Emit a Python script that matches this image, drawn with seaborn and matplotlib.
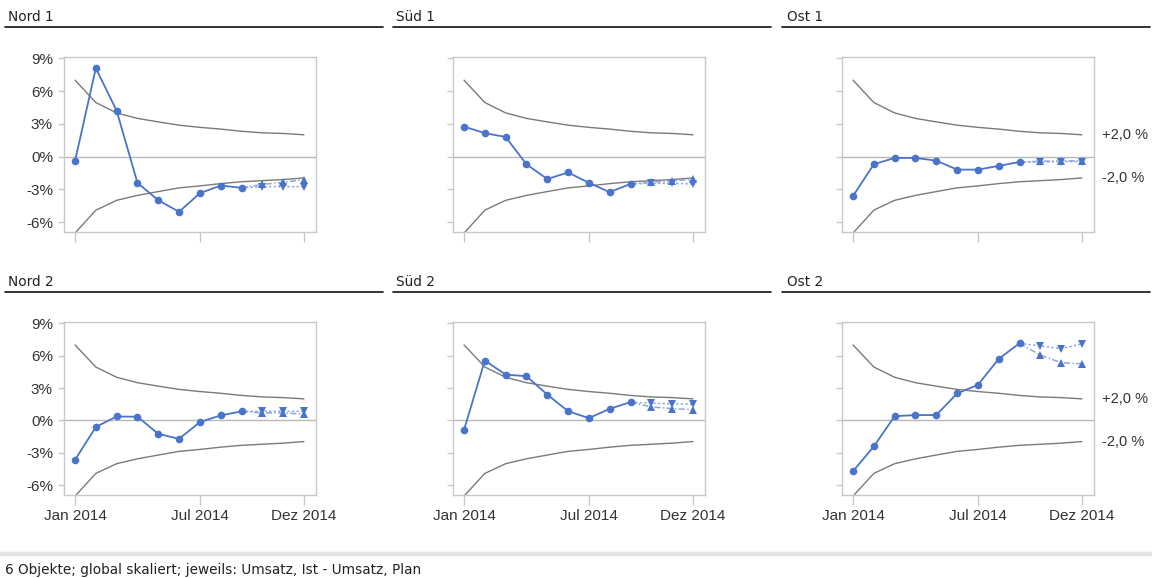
import numpy as np
import pandas as pd
import matplotlib
matplotlib.use("Agg")
import matplotlib.pyplot as plt
from matplotlib.lines import Line2D
import seaborn as sns

# ---------------- data ----------------
months = list(range(12))
month_ticks = [0, 6, 11]
month_tick_labels = ["Jan 2014", "Jul 2014", "Dez 2014"]
y_ticks = [-6, -3, 0, 3, 6, 9]
y_tick_labels = ["-6%", "-3%", "0%", "3%", "6%", "9%"]

band_upper = [7.0, 4.95, 4.0, 3.5, 3.18, 2.88, 2.68, 2.52, 2.32, 2.18, 2.12, 2.0]
band_lower = [-7.0, -4.9, -4.0, -3.55, -3.2, -2.86, -2.68, -2.47, -2.3, -2.2, -2.1, -1.95]

panel_titles = ["Nord 1", "Süd 1", "Ost 1", "Nord 2", "Süd 2", "Ost 2"]

ist_months = list(range(9))        # Jan .. Sep
fc_months = [8, 9, 10, 11]         # Sep .. Dez

nord1_ist = [-0.4, 8.1, 4.2, -2.4, -4.0, -5.05, -3.35, -2.65, -2.85]
nord1_fc_down = [-2.85, -2.75, -2.75, -2.75]
nord1_fc_up = [-2.85, -2.55, -2.35, -2.1]

sued1_ist = [2.75, 2.15, 1.8, -0.7, -2.05, -1.45, -2.4, -3.25, -2.5]
sued1_fc_down = [-2.5, -2.45, -2.45, -2.5]
sued1_fc_up = [-2.5, -2.35, -2.25, -2.05]

ost1_ist = [-3.6, -0.7, -0.12, -0.12, -0.37, -1.19, -1.19, -0.85, -0.49]
ost1_fc_down = [-0.49, -0.5, -0.45, -0.45]
ost1_fc_up = [-0.49, -0.42, -0.4, -0.38]

nord2_ist = [-3.65, -0.6, 0.37, 0.35, -1.24, -1.7, -0.15, 0.47, 0.84]
nord2_fc_down = [0.84, 0.85, 0.85, 0.85]
nord2_fc_up = [0.84, 0.7, 0.7, 0.6]

sued2_ist = [-0.87, 5.55, 4.25, 4.1, 2.4, 0.86, 0.22, 1.08, 1.7]
sued2_fc_down = [1.7, 1.6, 1.55, 1.5]
sued2_fc_up = [1.7, 1.25, 1.1, 1.0]

ost2_ist = [-4.7, -2.4, 0.4, 0.5, 0.5, 2.5, 3.3, 5.7, 7.15]
ost2_fc_down = [7.15, 6.9, 6.65, 7.1]
ost2_fc_up = [7.15, 6.05, 5.35, 5.25]

band_labels = ["+2,0 %", "-2,0 %"]
band_label_values = [2.0, -2.0]

footer_text = "6 Objekte; global skaliert; jeweils: Umsatz, Ist - Umsatz, Plan"

panels = [
    (nord1_ist, nord1_fc_down, nord1_fc_up),
    (sued1_ist, sued1_fc_down, sued1_fc_up),
    (ost1_ist, ost1_fc_down, ost1_fc_up),
    (nord2_ist, nord2_fc_down, nord2_fc_up),
    (sued2_ist, sued2_fc_down, sued2_fc_up),
    (ost2_ist, ost2_fc_down, ost2_fc_up),
]

# ---------------- style ----------------
sns.set_theme(style="white")
plt.rcParams["font.family"] = ["Liberation Sans", "DejaVu Sans"]

W, H = 1152, 578
fig = plt.figure(figsize=(W / 100, H / 100), dpi=100)
fig.patch.set_facecolor("white")

BLUE = "#4a74c9"
LIGHT_BLUE = "#8ea7dc"
GRAY = "#7a7a7a"
FRAME = "#c8c8c8"

col_left = [64, 453, 842]
ax_w = 252
rows = [(57, 232), (322, 495)]
title_x = [8, 396, 787]
line_x = [(5, 383), (393, 771), (782, 1150)]
title_y = [17, 282]
uline_y = [27, 292]


def fx(px):
    return px / W


def fy(py):
    return 1 - py / H


for i, (ist, fdown, fup) in enumerate(panels):
    r, c = divmod(i, 3)
    top, bot = rows[r]
    ax = fig.add_axes([fx(col_left[c]), fy(bot), fx(ax_w), (bot - top) / H])
    ax.set_facecolor("white")

    ax.axhline(0, color="#b8b8b8", lw=1.0, zorder=1)
    sns.lineplot(x=months, y=band_upper, ax=ax, color=GRAY, lw=1.0, zorder=2)
    sns.lineplot(x=months, y=band_lower, ax=ax, color=GRAY, lw=1.0, zorder=2)

    sns.lineplot(x=fc_months, y=fdown, ax=ax, color=LIGHT_BLUE, lw=1.1,
                 linestyle=(0, (1.5, 1.5)), marker="v", markersize=6,
                 markevery=[1, 2, 3],
                 markerfacecolor=BLUE, markeredgewidth=0, zorder=3)
    sns.lineplot(x=fc_months, y=fup, ax=ax, color=LIGHT_BLUE, lw=1.1,
                 linestyle=(0, (4, 1.5, 1, 1.5)), marker="^", markersize=6,
                 markevery=[1, 2, 3],
                 markerfacecolor=BLUE, markeredgewidth=0, zorder=3)
    sns.lineplot(x=ist_months, y=ist, ax=ax, color=BLUE, lw=1.3, marker="o",
                 markersize=5.5, markeredgewidth=0, zorder=4)

    ax.set_xlim(-0.53, 11.58)
    ax.set_ylim(-6.9, 9.12)
    ax.set_xticks(month_ticks)
    ax.set_yticks(y_ticks)
    if r == 1:
        ax.set_xticklabels(month_tick_labels)
    else:
        ax.set_xticklabels([])
    if c == 0:
        ax.set_yticklabels(y_tick_labels)
    else:
        ax.set_yticklabels([])
    ax.tick_params(axis="x", length=7, width=1, color=FRAME, pad=3,
                   labelsize=11, labelcolor="#333333", bottom=True)
    ax.tick_params(axis="y", length=4, width=1, color=FRAME, pad=4,
                   labelsize=11, labelcolor="#333333", left=True)
    ax.set_xlabel("")
    ax.set_ylabel("")
    for s in ax.spines.values():
        s.set_color(FRAME)
        s.set_linewidth(1.0)

    if c == 2:
        for lab, val in zip(band_labels, band_label_values):
            ax.annotate(lab, xy=(1.0, val), xycoords=("axes fraction", "data"),
                        xytext=(6, 0), textcoords="offset points",
                        ha="left", va="center", fontsize=10.5, color="#333333",
                        annotation_clip=False)

    # panel title + underline
    fig.text(fx(title_x[c]), fy(title_y[r]), panel_titles[i], ha="left",
             va="center", fontsize=9.8, color="#222222", family=["DejaVu Sans"])
    x0, x1 = line_x[c]
    fig.add_artist(Line2D([fx(x0), fx(x1)], [fy(uline_y[r])] * 2,
                          color="#111111", lw=1.2))

# footer
fig.add_artist(Line2D([0, 1], [fy(554)] * 2, color="#e3e3e3", lw=3.2))
fig.text(fx(5), fy(570), footer_text, ha="left", va="center", fontsize=9.8,
         color="#222222", family=["DejaVu Sans"])

fig.savefig("out.png", dpi=100)
